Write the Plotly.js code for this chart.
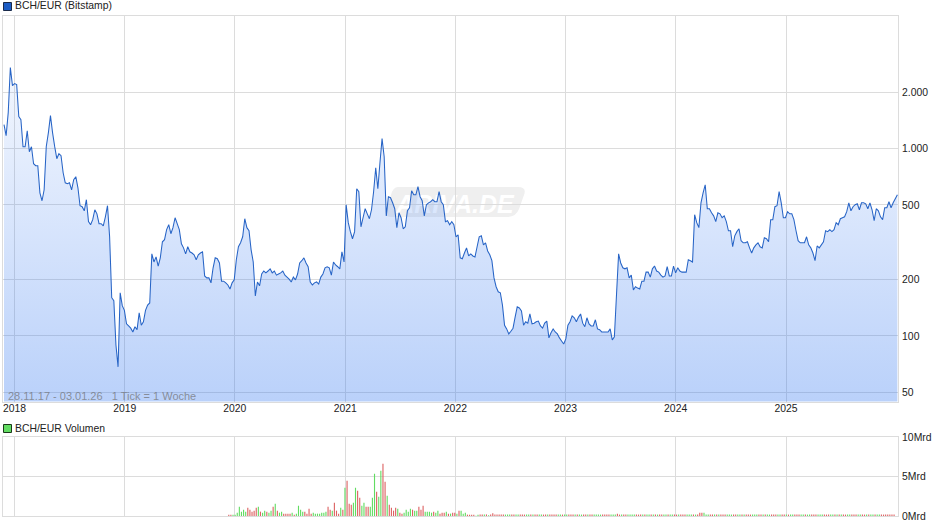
<!DOCTYPE html>
<html><head><meta charset="utf-8">
<script src="https://cdn.plot.ly/plotly-3.0.1.min.js"></script>
<style>html,body{margin:0;padding:0;background:#fff}#c{width:940px;height:526px}</style>
</head><body><div id="c"></div>
<script>
const firstWeek = '2017-11-27';
const volumeFirstDay = '2019-12-12';
const prices = [
1340,1170,1553,2700,2164,2218,2191,1478,1424,1022,1022,1243,961,1022,829,809,809,580,526,602,
1022,1212,1496,1212,1022,882,937,915,742,656,648,656,602,681,707,617,495,489,465,533,
407,392,417,471,448,397,397,387,432,495,338,160,154,89.5,68.4,170,145,137,116,113,
110,105,112,108,133,114,119,137,146,150,274,248,264,236,261,318,326,369,392,351,
378,427,397,369,310,295,274,299,281,277,271,255,271,277,281,209,204,204,192,231,
261,258,245,196,196,192,187,178,192,199,255,299,314,338,422,378,364,288,248,163.5,
194,185,214,222,217,222,228,217,222,211,214,217,222,211,206,201,194,206,199,214,245,
252,261,245,234,194,187,192,194,189,206,214,231,234,231,211,248,239,234,228,281,
248,501,402,360,330,360,610,588,382,427,477,448,422,471,588,789,610,839,1128,904,
437,553,546,513,477,378,454,427,373,382,465,483,595,566,566,625,553,526,437,501,
513,520,533,520,520,588,520,501,407,412,392,407,392,338,346,261,258,277,295,267,
274,267,264,299,338,342,306,314,284,271,252,204,183,172,170,146,114,109,102.5,106,
110,126,143,141,136,114,119,117,131,116,117,119,120,113,110,117,120,97.6,104,109,
105,102.5,97.6,94,90.6,96.4,114,119,128,125,119,126,131,117,112,125,116,113,113,122,
109,108,105,105,105,105,109,95.2,99,166,274,245,231,228,231,204,211,176,183,180,
178,196,196,219,219,206,228,236,222,219,211,206,209,234,209,209,236,217,231,222,
219,219,219,255,252,248,443,402,378,513,580,640,477,477,454,437,407,454,448,427,
437,407,364,364,299,342,360,373,322,314,314,318,295,277,295,306,314,299,295,334,
330,318,417,417,489,495,588,513,427,427,460,448,448,417,364,322,314,314,314,338,
306,295,277,252,302,295,306,318,364,360,369,360,369,402,392,422,427,432,460,513,
465,489,501,507,471,513,513,507,477,513,471,412,477,465,432,417,483,483,520,483,
513,539,566
];
const volumes = [
.17,.17,.17,.17,.42,1.18,.55,.8,.55,1.05,
.8,.55,.68,1.05,1.18,.55,.42,.68,.55,.42,
.68,1.18,1.56,.68,.42,.55,.3,.3,.3,.3,
.42,.17,.3,1.3,.8,.55,.55,.3,.93,.3,
.42,.3,.3,.3,.42,.42,.55,1.18,.8,.68,
1.69,.68,.3,1.05,.8,3.59,4.47,1.56,1.43,1.69,
3.59,3.2,2.32,1.3,1.69,1.18,1.18,1.18,2.32,5.36,
3.08,2.45,5.74,6.62,4.35,2.57,1.43,1.05,.68,1.05,
.93,.42,.3,.42,.8,.55,.93,.8,.68,.68,
1.18,.8,1.3,.55,.55,.55,.42,.55,.42,.68,
.3,.42,.42,.55,.3,.3,.42,.42,.3,.68,
.68,.3,.42,.17,.17,.17,.17,.04,.17,
.2,.2,.2,.2,.08,.2,.34,.2
];
const volumeSides =
 'rrgggggggr'+'rrrrgrggrg'+'grgrggrrrr'+'grggggrrrr'+'gggggggrrg'+'rrrgrgrrrg'+
 'grrggrrggg'+'rggrrgrrrr'+'grrggggrgg'+'rrrggggrgg'+'rrrgrgrrgr'+'gggrrrrgg'+'rrgrgrrr'+
 'rrrrgggrrggrrrggrgrrggrrgrrr'+'rggrggrrrgrggrrgrrggggrrrrgg'+'grrgrrggggrrrgrggrgrgrrggrgg'+
 'rrgrrrgggrgrrrgggrrgrgrrrggg'+'rrggrgrrrgggrrgrggrrrggrrgrg'+'grrrggrggrrrgggrrrggrgrgrrgg'+
 'rrrggrrgrggrggrr';
const volumeTail = [
.18,.18,.18,.18,.18,.18,.18,.18,.18,.18, .18,.18,.18,.18,.18,.18,.18,.18,.18,.18,
.18,.18,.18,.18,.18,.18,.18,.18,.18,.18, .18,.18,.18,.18,.18,.18,.18,.18,.18,.18,
.18,.18,.18,.18,.18,.18,.18,.18,.18,.18, .18,.18,.18,.18,.18,.18,.18,.3,.18,.18,
.18,.18,.18,.18,.18,.18,.18,.18,.18,.18, .18,.18,.18,.18,.18,.18,.18,.18,.18,.18,
.18,.18,.18,.18,.18,.18,.18,.18,.18,.18, .18,.18,.18,.18,.18,.18,.4,.4,.4,.18,
.18,.18,.18,.18,.18,.18,.18,.18,.18,.18, .18,.18,.18,.18,.18,.18,.18,.18,.18,.18,
.18,.18,.18,.18,.18,.18,.18,.18,.18,.18, .18,.18,.18,.18,.18,.18,.18,.18,.18,.18,
.18,.18,.18,.18,.18,.18,.18,.18,.18,.18, .18,.18,.18,.18,.18,.18,.18,.18,.18,.18,
.18,.18,.18,.18,.18,.18,.18,.18,.18,.18, .18,.18,.18,.18,.18,.18,.18,.18,.18,.18,
.18,.18,.18,.18,.18,.18,.18,.18,.18
];
const yearTicks = ['2018-01-01','2019-01-01','2020-01-01','2021-01-01','2022-01-01','2023-01-01','2024-01-01','2025-01-01'];
const yearLabels = ['2018','2019','2020','2021','2022','2023','2024','2025'];
const priceTicks = [2000,1000,500,200,100,50];
const priceLabels = ['2.000','1.000','500','200','100','50'];
const volTicks = [0,5,10];
const volLabels = ['0Mrd','5Mrd','10Mrd'];

const WEEK = 7*864e5;
const stamp = (d,i)=>new Date(Date.parse(d+'T00:00:00Z')+i*WEEK).toISOString().slice(0,10);
const dates = prices.map((_,i)=>stamp(firstWeek,i));
const allVol = volumes.concat(volumeTail);
const volDates = allVol.map((_,i)=>stamp(volumeFirstDay,i));
const GREEN='#62dc62', RED='#dc6262';
const volColors = allVol.map((_,i)=>volumeSides[i]==='g'?GREEN:RED);

const W=940,H=526, fx=p=>p/W, fy=p=>1-p/H;
const xRange=['2017-11-22','2026-01-07'];
const GRID='#dcdcdc';
const font={family:'"Liberation Sans",Arial,sans-serif',size:10.4,color:'#222'};
const axisX={range:xRange,type:'date',domain:[fx(2.5),fx(898)],tickmode:'array',tickvals:yearTicks,
  showgrid:true,gridcolor:GRID,gridwidth:1,zeroline:false,showline:true,linecolor:GRID,linewidth:1,mirror:true,ticks:'',layer:'below traces'};
const wm='M398 187 L518 187 Q527 187 524 195 L519 209 Q516 217 507 217 L392 217 Q383 217 386 209 L391 195 Q393 187 398 187 Z';
const toPaper=s=>s.replace(/(-?[\d.]+) (-?[\d.]+)/g,(m,a,b)=>fx(+a)+' '+fy(+b));
const layout={
  width:W,height:H,margin:{l:0,r:0,t:0,b:0,pad:0},paper_bgcolor:'#fff',plot_bgcolor:'rgba(0,0,0,0)',
  font,showlegend:false,hovermode:false,
  xaxis:Object.assign({},axisX,{anchor:'y',ticktext:yearLabels,ticklabelstandoff:-3,tickfont:font}),
  yaxis:{type:'log',domain:[fy(401.5),fy(16)],range:[Math.log10(44.7),Math.log10(5088)],side:'right',anchor:'x',
    tickmode:'array',tickvals:priceTicks,ticktext:priceLabels,showgrid:true,gridcolor:GRID,zeroline:false,
    showline:true,linecolor:GRID,mirror:true,ticks:'outside',ticklen:1,tickcolor:'rgba(0,0,0,0)',tickfont:font,layer:'below traces'},
  xaxis2:Object.assign({},axisX,{anchor:'y2',showticklabels:false}),
  yaxis2:{domain:[fy(516),fy(437)],range:[0,10],side:'right',anchor:'x2',tickmode:'array',tickvals:volTicks,ticktext:volLabels,
    showgrid:true,gridcolor:GRID,zeroline:false,showline:true,linecolor:GRID,mirror:true,ticks:'outside',ticklen:1,
    tickcolor:'rgba(0,0,0,0)',tickfont:font,layer:'below traces'},
  shapes:[
    {type:'path',xref:'paper',yref:'paper',layer:'below',path:toPaper(wm),fillcolor:'#efefef',line:{width:0},
      label:{text:'<b><i>ARIVA.DE</i></b>',font:{family:font.family,size:25,color:'#ffffff'},textposition:'middle center'}},
    {type:'rect',xref:'paper',yref:'paper',x0:fx(3.5),x1:fx(11.5),y0:fy(10.5),y1:fy(2.5),fillcolor:'#1c5cc4',line:{color:'#1a2a4a',width:1}},
    {type:'rect',xref:'paper',yref:'paper',x0:fx(3.5),x1:fx(11.5),y0:fy(432.5),y1:fy(424.5),fillcolor:'#62dc62',line:{color:'#1a3a1a',width:1}}
  ],
  annotations:[
    {xref:'paper',yref:'paper',x:fx(13),y:fy(6),xanchor:'left',yanchor:'middle',showarrow:false,text:'BCH/EUR (Bitstamp)',font},
    {xref:'paper',yref:'paper',x:fx(13),y:fy(428),xanchor:'left',yanchor:'middle',showarrow:false,text:'BCH/EUR Volumen',font},
    {xref:'paper',yref:'paper',x:fx(6),y:fy(395.5),xanchor:'left',yanchor:'middle',showarrow:false,
      text:'28.11.17 - 03.01.26&nbsp;&nbsp;&nbsp;1 Tick = 1 Woche',font:{family:font.family,size:11,color:'rgba(110,110,110,0.7)'}}
  ]
};
const traces=[
 {type:'scatter',mode:'lines',x:dates,y:prices,xaxis:'x',yaxis:'y',line:{color:'#2764c6',width:1.05,simplify:false},
  fill:'tozeroy',fillcolor:'rgba(50,110,230,0.2)',
  fillgradient:{type:'vertical',start:44.7,stop:5088,colorscale:[[0,'rgba(45,115,240,0.33)'],[1,'rgba(45,115,240,0.015)']]},hoverinfo:'skip'},
 {type:'bar',x:volDates,y:allVol,xaxis:'x2',yaxis:'y2',width:3.7*864e5,marker:{color:volColors,line:{width:0}},hoverinfo:'skip'}
];
Plotly.newPlot('c',traces,layout,{staticPlot:true,displayModeBar:false});
</script></body></html>
